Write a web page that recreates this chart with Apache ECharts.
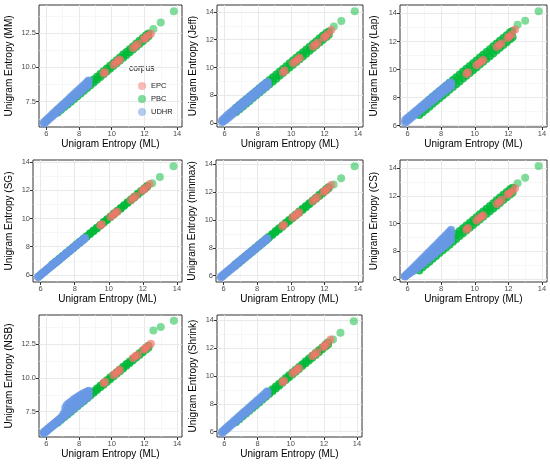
<!DOCTYPE html>
<html><head><meta charset="utf-8">
<script src="https://cdn.jsdelivr.net/npm/echarts@6/dist/echarts.min.js"></script>
<style>html,body{margin:0;padding:0;background:#fff}#c{width:550px;height:465px}</style>
</head><body><div id="c"></div>
<script>
// ---- data: x = ML entropy (shared); y per estimator, read as lower / upper edge of each band ----
const udhrML = [5.85,5.95,6.05,6.15,6.25,6.35,6.45,6.55,6.65,6.75,6.85,6.95,7.05,7.15,7.25,7.35,7.45,7.55,7.65,7.75,7.85,7.95,8.05,8.15,8.25,8.35,8.45,8.55,8.6];
const pbcML = [6.7,6.9,7.1,7.3,7.5,7.7,7.9,8.1,8.3,8.5,8.7,8.9,9.1,9.3,9.5,9.7,9.9,10.1,10.3,10.5,10.7,10.9,11.1,11.3,11.5,11.7,11.9,12.1,12.25];
const pbcOutML = [12.55, 13.0, 13.8];
const epcML = [9.5,9.6,10.1,10.25,10.4,10.5,11.3,11.45,11.6,11.95,12.05,12.2,12.4];

// MM
const mmUDHRlo = [5.90,6.00,6.11,6.21,6.32,6.42,6.52,6.63,6.73,6.83,6.94,7.04,7.14,7.25,7.35,7.46,7.56,7.66,7.77,7.87,7.97,8.08,8.18,8.28,8.39,8.49,8.60,8.70,8.75];
const mmUDHRhi = [6.00,6.11,6.22,6.33,6.44,6.56,6.67,6.78,6.89,7.00,7.11,7.22,7.33,7.44,7.55,7.66,7.78,7.89,8.00,8.11,8.22,8.33,8.44,8.55,8.66,8.77,8.88,9.00,9.05];
const mmPBClo = [6.70,6.90,7.10,7.30,7.50,7.70,7.90,8.10,8.30,8.50,8.70,8.90,9.10,9.30,9.50,9.70,9.90,10.10,10.30,10.50,10.70,10.90,11.10,11.30,11.50,11.70,11.90,12.10,12.27];
const mmPBChi = [6.90,7.10,7.30,7.50,7.70,7.90,8.10,8.30,8.50,8.70,8.91,9.11,9.31,9.51,9.71,9.92,10.12,10.32,10.52,10.72,10.93,11.13,11.33,11.53,11.74,11.94,12.14,12.34,12.48];
const mmPBCout = [12.80, 13.28, 14.10];
const mmEPC = [9.55,9.67,10.18,10.33,10.48,10.58,11.40,11.55,11.70,12.05,12.15,12.30,12.45];
// Jeff
const jfUDHRlo = [6.07,6.13,6.22,6.31,6.41,6.51,6.61,6.71,6.81,6.91,7.01,7.11,7.21,7.31,7.41,7.51,7.61,7.71,7.81,7.91,8.01,8.11,8.21,8.31,8.41,8.51,8.61,8.70,8.75];
const jfUDHRhi = [6.20,6.32,6.43,6.54,6.65,6.75,6.85,6.95,7.05,7.15,7.25,7.35,7.45,7.55,7.65,7.75,7.85,7.95,8.05,8.15,8.25,8.35,8.45,8.55,8.65,8.75,8.84,8.92,8.95];
const jfPBClo = [6.80,7.00,7.20,7.40,7.60,7.80,8.00,8.20,8.40,8.60,8.80,9.00,9.20,9.40,9.60,9.80,10.00,10.20,10.40,10.60,10.80,11.00,11.20,11.40,11.60,11.80,12.00,12.20,12.35];
const jfPBChi = [7.10,7.30,7.50,7.70,7.90,8.10,8.30,8.50,8.70,8.90,9.10,9.30,9.50,9.70,9.90,10.10,10.30,10.50,10.70,10.90,11.10,11.30,11.50,11.70,11.90,12.10,12.30,12.48,12.60];
const jfPBCout = [12.95, 13.35, 14.05];
const jfEPC = [9.65,9.78,10.30,10.45,10.60,10.70,11.50,11.65,11.80,12.15,12.25,12.42,12.70];
// Lap
const lpUDHRlo = [6.20,6.30,6.40,6.49,6.59,6.69,6.79,6.88,6.98,7.08,7.17,7.27,7.37,7.46,7.56,7.65,7.75,7.84,7.94,8.03,8.13,8.22,8.32,8.41,8.51,8.60,8.69,8.78,8.82];
const lpUDHRhi = [6.40,6.50,6.60,6.70,6.80,6.90,7.00,7.10,7.20,7.30,7.40,7.50,7.60,7.70,7.80,7.90,8.00,8.10,8.20,8.30,8.40,8.50,8.60,8.70,8.80,8.90,9.00,9.05,9.05];
const lpPBClo = [6.75,6.95,7.15,7.35,7.55,7.75,7.95,8.15,8.35,8.55,8.75,8.95,9.15,9.35,9.55,9.75,9.95,10.15,10.35,10.55,10.75,10.95,11.15,11.35,11.55,11.75,11.95,12.15,12.30];
const lpPBChi = [7.00,7.35,7.62,7.85,8.05,8.25,8.45,8.65,8.85,9.05,9.25,9.45,9.65,9.85,10.05,10.25,10.45,10.65,10.85,11.05,11.25,11.45,11.65,11.85,12.05,12.25,12.45,12.65,12.75];
const lpPBCout = [13.20, 13.47, 14.16];
const lpEPC = [9.68,9.80,10.30,10.45,10.58,10.68,11.60,11.75,11.88,12.25,12.35,12.50,12.85];
// SG
const sgUDHRlo = [5.85,5.95,6.05,6.15,6.25,6.35,6.45,6.55,6.65,6.75,6.85,6.95,7.05,7.15,7.25,7.35,7.45,7.55,7.65,7.75,7.85,7.95,8.05,8.15,8.25,8.35,8.45,8.55,8.60];
const sgUDHRhi = [5.88,5.98,6.08,6.18,6.28,6.38,6.48,6.58,6.68,6.78,6.88,6.98,7.08,7.18,7.28,7.38,7.48,7.58,7.68,7.78,7.88,7.98,8.08,8.18,8.28,8.38,8.48,8.58,8.63];
const sgPBClo = [6.70,6.90,7.10,7.30,7.50,7.70,7.90,8.10,8.30,8.50,8.70,8.90,9.10,9.30,9.50,9.70,9.90,10.10,10.30,10.50,10.70,10.90,11.10,11.30,11.50,11.70,11.90,12.10,12.25];
const sgPBChi = [6.75,6.95,7.15,7.35,7.55,7.75,7.95,8.15,8.35,8.55,8.75,8.95,9.15,9.35,9.55,9.75,9.95,10.15,10.35,10.55,10.75,10.95,11.15,11.35,11.55,11.75,11.95,12.15,12.30];
const sgPBCout = [12.50, 12.95, 13.70];
const sgEPC = [9.50,9.60,10.10,10.25,10.40,10.50,11.30,11.45,11.60,11.95,12.05,12.20,12.45];
// minmax
const mxUDHRlo = [5.87,5.97,6.07,6.17,6.27,6.37,6.47,6.57,6.67,6.77,6.87,6.97,7.07,7.17,7.27,7.37,7.47,7.57,7.67,7.77,7.87,7.97,8.07,8.17,8.27,8.37,8.47,8.57,8.62];
const mxUDHRhi = [5.95,6.05,6.15,6.25,6.35,6.45,6.55,6.65,6.75,6.85,6.95,7.05,7.15,7.25,7.35,7.45,7.55,7.65,7.75,7.85,7.95,8.05,8.15,8.25,8.35,8.45,8.55,8.65,8.70];
const mxPBClo = [6.72,6.92,7.12,7.32,7.52,7.72,7.92,8.12,8.32,8.52,8.72,8.92,9.12,9.32,9.52,9.72,9.92,10.12,10.32,10.52,10.72,10.92,11.12,11.32,11.52,11.72,11.92,12.12,12.27];
const mxPBChi = [6.80,7.00,7.20,7.40,7.60,7.80,8.00,8.20,8.40,8.60,8.80,9.00,9.20,9.40,9.60,9.80,10.00,10.20,10.40,10.60,10.80,11.00,11.20,11.40,11.60,11.80,12.00,12.20,12.35];
const mxPBCout = [12.55, 13.00, 13.85];
const mxEPC = [9.55,9.65,10.15,10.30,10.45,10.55,11.35,11.50,11.65,12.00,12.10,12.25,12.50];
// CS
const csUDHRlo = [6.20,6.28,6.36,6.44,6.52,6.60,6.68,6.77,6.86,6.95,7.05,7.15,7.25,7.35,7.45,7.55,7.65,7.75,7.85,7.95,8.05,8.15,8.25,8.35,8.45,8.55,8.65,8.77,8.85];
const csUDHRmid = [6.20,6.30,6.40,6.50,6.60,6.70,6.80,6.91,7.01,7.12,7.23,7.34,7.45,7.56,7.68,7.79,7.90,8.01,8.12,8.23,8.34,8.45,8.56,8.67,8.78,8.90,9.01,9.13,9.20];
const csUDHRhi = [6.20,6.32,6.44,6.57,6.69,6.81,6.93,7.05,7.17,7.30,7.42,7.54,7.66,7.78,7.91,8.03,8.15,8.27,8.39,8.51,8.64,8.76,8.88,9.00,9.12,9.25,9.37,9.49,9.55];
const csPBClo = [6.62,6.84,7.05,7.25,7.46,7.66,7.87,8.07,8.28,8.48,8.69,8.89,9.10,9.30,9.50,9.70,9.90,10.10,10.30,10.50,10.70,10.90,11.10,11.30,11.50,11.70,11.90,12.10,12.25];
const csPBChi = [7.00,7.23,7.44,7.65,7.85,8.05,8.25,8.45,8.66,8.86,9.06,9.26,9.46,9.66,9.87,10.07,10.27,10.47,10.68,10.88,11.08,11.28,11.48,11.69,11.89,12.09,12.29,12.48,12.60];
const csPBCout = [12.92, 13.32, 14.17];
const csEPC = [9.55,9.68,10.22,10.38,10.50,10.60,11.42,11.56,11.72,12.08,12.18,12.32,12.55];
// NSB
const nsbUDHRlo = [5.90,6.00,6.10,6.20,6.30,6.40,6.50,6.60,6.70,6.80,6.90,7.00,7.10,7.20,7.30,7.40,7.50,7.60,7.70,7.80,7.90,8.00,8.10,8.20,8.30,8.40,8.50,8.60,8.65];
const nsbUDHRmid = [5.95,6.05,6.15,6.25,6.35,6.45,6.55,6.65,6.75,6.85,6.95,7.06,7.22,7.50,7.65,7.75,7.84,7.94,8.04,8.13,8.22,8.31,8.40,8.48,8.57,8.65,8.73,8.81,8.85];
const nsbUDHRhi = [6.00,6.10,6.20,6.30,6.40,6.50,6.60,6.70,6.80,6.90,7.00,7.12,7.35,7.80,8.00,8.10,8.18,8.28,8.38,8.46,8.55,8.62,8.70,8.77,8.84,8.90,8.96,9.02,9.05];
const nsbPBClo = [6.70,6.90,7.10,7.30,7.50,7.70,7.90,8.10,8.30,8.50,8.70,8.90,9.10,9.30,9.50,9.70,9.90,10.10,10.30,10.50,10.70,10.90,11.10,11.30,11.50,11.70,11.90,12.10,12.25];
const nsbPBChi = [6.82,7.02,7.22,7.42,7.62,7.82,8.02,8.22,8.42,8.62,8.82,9.02,9.22,9.42,9.62,9.82,10.02,10.22,10.42,10.62,10.82,11.02,11.22,11.42,11.62,11.82,12.02,12.22,12.37];
const nsbPBCout = [13.50, 13.76, 14.23];
const nsbEPC = [9.60,9.72,10.20,10.35,10.50,10.60,11.45,11.60,11.72,12.08,12.18,12.32,12.52];
// Shrink
const shUDHRlo = [5.90,6.00,6.10,6.20,6.30,6.40,6.51,6.61,6.71,6.81,6.91,7.01,7.12,7.22,7.32,7.42,7.52,7.63,7.73,7.83,7.93,8.04,8.14,8.24,8.34,8.44,8.55,8.65,8.70];
const shUDHRhi = [6.00,6.11,6.21,6.32,6.42,6.53,6.63,6.74,6.84,6.95,7.05,7.16,7.26,7.37,7.47,7.58,7.68,7.79,7.89,8.00,8.10,8.21,8.31,8.42,8.52,8.63,8.73,8.84,8.89];
const shPBClo = [6.70,6.90,7.10,7.30,7.50,7.70,7.90,8.10,8.30,8.50,8.70,8.90,9.10,9.30,9.50,9.70,9.90,10.10,10.30,10.50,10.70,10.90,11.10,11.30,11.50,11.70,11.90,12.10,12.25];
const shPBChi = [6.84,7.04,7.24,7.44,7.64,7.84,8.04,8.24,8.44,8.64,8.84,9.04,9.24,9.44,9.64,9.84,10.04,10.24,10.44,10.64,10.84,11.04,11.24,11.44,11.64,11.84,12.04,12.24,12.39];
const shPBCout = [12.60, 13.08, 13.92];
const shEPC = [9.55,9.65,10.17,10.32,10.47,10.57,11.40,11.55,11.70,12.05,12.15,12.32,12.60];

// tick labels / names
const xTicks = [6, 8, 10, 12, 14];
const xMinor = [7, 9, 11, 13];
const yTicksHalf = [7.5, 10, 12.5];
const yMinorHalf = [6.25, 8.75, 11.25, 13.75];
const yTicksInt = [6, 8, 10, 12, 14];
const yMinorInt = [7, 9, 11, 13];
const estimators = ['MM', 'Jeff', 'Lap', 'SG', 'minmax', 'CS', 'NSB', 'Shrink'];
const corpora = ['EPC', 'PBC', 'UDHR'];

const panelData = [
  {u: [mmUDHRlo, mmUDHRhi], p: [mmPBClo, mmPBChi], po: mmPBCout, e: mmEPC, yt: yTicksHalf, ym: yMinorHalf, range: [5.65, 14.55]},
  {u: [jfUDHRlo, jfUDHRhi], p: [jfPBClo, jfPBChi], po: jfPBCout, e: jfEPC, yt: yTicksInt, ym: yMinorInt, range: [5.72, 14.5]},
  {u: [lpUDHRlo, lpUDHRhi], p: [lpPBClo, lpPBChi], po: lpPBCout, e: lpEPC, yt: yTicksInt, ym: yMinorInt, range: [5.9, 14.6]},
  {u: [sgUDHRlo, sgUDHRhi], p: [sgPBClo, sgPBChi], po: sgPBCout, e: sgEPC, yt: yTicksInt, ym: yMinorInt, range: [5.5, 14.15]},
  {u: [mxUDHRlo, mxUDHRhi], p: [mxPBClo, mxPBChi], po: mxPBCout, e: mxEPC, yt: yTicksInt, ym: yMinorInt, range: [5.55, 14.3]},
  {u: [csUDHRlo, csUDHRmid, csUDHRhi], p: [csPBClo, csPBChi], po: csPBCout, e: csEPC, yt: yTicksInt, ym: yMinorInt, range: [5.78, 14.6]},
  {u: [nsbUDHRlo, nsbUDHRmid, nsbUDHRhi], p: [nsbPBClo, nsbPBChi], po: nsbPBCout, e: nsbEPC, yt: yTicksHalf, ym: yMinorHalf, range: [5.63, 14.65]},
  {u: [shUDHRlo, shUDHRhi], p: [shPBClo, shPBChi], po: shPBCout, e: shEPC, yt: yTicksInt, ym: yMinorInt, range: [5.62, 14.36]}
];
const xRange = [5.55, 14.3];

// ---- layout ----
const layout = [
  {left: 39, top: 5, w: 143, h: 122, gap: 25},
  {left: 217, top: 5, w: 146, h: 122, gap: 19},
  {left: 400, top: 5, w: 147, h: 122, gap: 21},
  {left: 33, top: 160, w: 149, h: 122, gap: 19},
  {left: 216, top: 160, w: 147, h: 122, gap: 19},
  {left: 400, top: 160, w: 147, h: 122, gap: 21},
  {left: 39, top: 315, w: 143, h: 122, gap: 25},
  {left: 217, top: 315, w: 145, h: 122, gap: 19}
];
const colors = {EPC: '#F8766D', PBC: '#00BA38', UDHR: '#6898E4'};
const FONT = '"Liberation Sans", Arial, Helvetica, sans-serif';

const grids = [], xAxes = [], yAxes = [], series = [];
panelData.forEach((d, i) => {
  const L = layout[i];
  grids.push({left: L.left, top: L.top, width: L.w, height: L.h, show: true,
    borderColor: '#333', borderWidth: 1, backgroundColor: '#fff'});
  const fmt = v => (d.yt === yTicksHalf ? v.toFixed(1) : String(v));
  xAxes.push({gridIndex: i, type: 'value', min: xRange[0], max: xRange[1],
    name: 'Unigram Entropy (ML)', nameLocation: 'middle', nameGap: 12,
    nameTextStyle: {fontSize: 10, color: '#000', fontFamily: FONT},
    axisLine: {show: false},
    axisTick: {show: true, length: 3, customValues: xTicks, lineStyle: {color: '#333', width: 1}},
    axisLabel: {customValues: xTicks, fontSize: 7.5, color: '#4d4d4d', margin: 3, fontFamily: FONT},
    splitLine: {show: true, lineStyle: {color: '#e6e6e6', width: 0.9}}});
  yAxes.push({gridIndex: i, type: 'value', min: d.range[0], max: d.range[1],
    name: 'Unigram Entropy (' + estimators[i] + ')', nameLocation: 'middle', nameGap: L.gap,
    nameTextStyle: {fontSize: 10, color: '#000', fontFamily: FONT},
    axisLine: {show: false},
    axisTick: {show: true, length: 3, customValues: d.yt, lineStyle: {color: '#333', width: 1}},
    axisLabel: {customValues: d.yt, fontSize: 7.5, color: '#4d4d4d', margin: 3, fontFamily: FONT, formatter: fmt},
    splitLine: {show: true, lineStyle: {color: '#e6e6e6', width: 0.9}}});
  // minor grid lines
  series.push({type: 'scatter', xAxisIndex: i, yAxisIndex: i, data: [], silent: true, z: 1,
    markLine: {silent: true, symbol: ['none', 'none'], z: 1, animation: false,
      label: {show: false}, emphasis: {disabled: true},
      lineStyle: {color: '#f1f1f1', width: 0.6, type: 'solid'},
      data: xMinor.map(v => ({xAxis: v})).concat(d.ym.map(v => ({yAxis: v})))}});
  const pts = (xs, ys) => xs.map((x, k) => [x, ys[k]]);
  const add = (name, data, op) => series.push({type: 'scatter', name, xAxisIndex: i, yAxisIndex: i,
    symbolSize: 8, z: 2, animation: false,
    itemStyle: {color: colors[name], opacity: op}, data});
  const outliers = pts(pbcOutML, d.po).map(v => ({value: v, itemStyle: {opacity: 0.5}}));
  add('PBC', [].concat(...d.p.map(ys => pts(pbcML, ys)), outliers), 0.85);
  add('EPC', pts(epcML, d.e), 0.7);
  add('UDHR', [].concat(...d.u.map(ys => pts(udhrML, ys))), 0.75);
});

const chart = echarts.init(document.getElementById('c'));
chart.setOption({
  animation: false,
  grid: grids, xAxis: xAxes, yAxis: yAxes, series,
  legend: {data: corpora, orient: 'vertical', left: 133, top: 77, itemWidth: 8, itemHeight: 8,
    itemGap: 5, icon: 'circle', selectedMode: false,
    itemStyle: {opacity: 0.5},
    textStyle: {fontSize: 7.5, color: '#222', fontFamily: FONT}},
  graphic: [{type: 'text', left: 129, top: 64, style: {text: 'corpus', fontSize: 8.5, fill: '#222', font: '8.5px ' + FONT}}]
});
</script></body></html>
